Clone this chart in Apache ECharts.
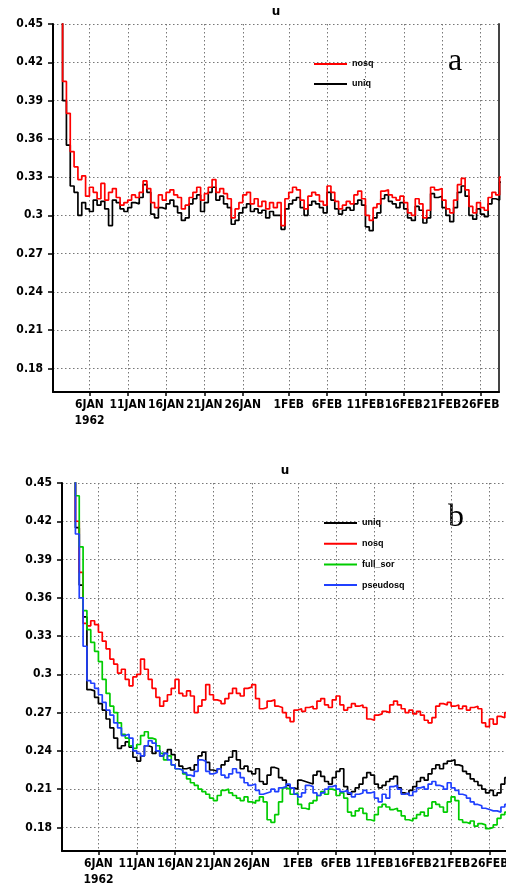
<!DOCTYPE html>
<html><head><meta charset="utf-8">
<script src="https://cdn.jsdelivr.net/npm/echarts@6/dist/echarts.min.js"></script>
<style>html,body{margin:0;padding:0;background:#fff}#c{width:506px;height:888px}</style>
</head><body><div id="c"></div>
<script>
// ---- data (sampled every 12 h from 1 JAN 1962 06Z); x is day-of-year (1 JAN 00Z = 1) ----
const startDay = 1.25;
const stepDays = 0.5;
const tickDays = [6, 11, 16, 21, 26, 32, 37, 42, 47, 52, 57];
const tickLabels = ['6JAN\n1962','11JAN','16JAN','21JAN','26JAN','1FEB','6FEB','11FEB','16FEB','21FEB','26FEB'];
const yTicks = [0.18,0.21,0.24,0.27,0.3,0.33,0.36,0.39,0.42,0.45];

// panel a
const uniqA = [0.60,0.52,0.47,0.39,0.355,0.323,0.318,0.300,0.310,0.305,
0.303,0.312,0.308,0.311,0.305,0.292,0.312,0.310,0.305,0.303,
0.306,0.310,0.309,0.314,0.324,0.318,0.301,0.298,0.306,0.305,
0.309,0.312,0.307,0.302,0.296,0.298,0.309,0.313,0.316,0.303,
0.310,0.318,0.322,0.312,0.315,0.309,0.306,0.293,0.296,0.302,
0.306,0.309,0.303,0.305,0.302,0.304,0.298,0.303,0.300,0.300,
0.289,0.305,0.309,0.312,0.314,0.306,0.300,0.308,0.311,0.309,
0.306,0.302,0.318,0.312,0.305,0.301,0.304,0.306,0.304,0.309,
0.312,0.308,0.291,0.288,0.298,0.302,0.313,0.316,0.311,0.309,
0.306,0.310,0.305,0.298,0.296,0.307,0.304,0.294,0.298,0.317,
0.314,0.315,0.306,0.300,0.295,0.306,0.318,0.323,0.315,0.300,
0.297,0.305,0.301,0.299,0.309,0.313,0.312,0.326];
const nosqA = [0.62,0.53,0.48,0.405,0.38,0.35,0.338,0.328,0.331,0.315,
0.322,0.318,0.313,0.325,0.312,0.318,0.321,0.314,0.308,0.310,
0.312,0.316,0.314,0.318,0.327,0.321,0.310,0.306,0.316,0.312,
0.318,0.320,0.316,0.314,0.305,0.308,0.314,0.318,0.322,0.312,
0.317,0.322,0.328,0.318,0.321,0.317,0.313,0.298,0.305,0.310,
0.316,0.318,0.309,0.313,0.307,0.311,0.305,0.310,0.306,0.310,
0.292,0.313,0.318,0.322,0.320,0.312,0.305,0.315,0.318,0.316,
0.311,0.308,0.323,0.318,0.311,0.305,0.308,0.311,0.309,0.316,
0.319,0.313,0.300,0.296,0.306,0.309,0.319,0.320,0.316,0.314,
0.312,0.315,0.310,0.302,0.300,0.313,0.309,0.298,0.304,0.322,
0.320,0.321,0.312,0.305,0.302,0.312,0.324,0.329,0.320,0.307,
0.302,0.310,0.306,0.304,0.314,0.318,0.316,0.330];

// panel b
const uniqB = [0.70,0.60,0.52,0.46,0.415,0.37,0.345,0.288,0.287,0.282,
0.277,0.272,0.265,0.258,0.250,0.242,0.244,0.247,0.243,0.235,
0.232,0.236,0.244,0.243,0.238,0.240,0.236,0.238,0.241,0.237,
0.233,0.228,0.226,0.227,0.225,0.229,0.236,0.239,0.231,0.225,
0.224,0.226,0.229,0.232,0.235,0.240,0.233,0.226,0.228,0.224,
0.222,0.226,0.216,0.214,0.221,0.227,0.226,0.219,0.217,0.213,
0.211,0.210,0.217,0.216,0.215,0.214,0.221,0.224,0.220,0.216,
0.214,0.219,0.224,0.226,0.212,0.206,0.208,0.211,0.214,0.219,
0.223,0.221,0.214,0.211,0.213,0.216,0.218,0.220,0.211,0.207,
0.206,0.209,0.212,0.216,0.219,0.217,0.222,0.226,0.229,0.226,
0.230,0.232,0.233,0.229,0.228,0.224,0.222,0.218,0.216,0.213,
0.210,0.207,0.209,0.205,0.207,0.214,0.219,0.222];
const nosqB = [0.70,0.60,0.52,0.47,0.42,0.38,0.340,0.338,0.342,0.339,
0.333,0.326,0.320,0.312,0.308,0.301,0.304,0.296,0.291,0.298,
0.300,0.312,0.304,0.296,0.289,0.282,0.275,0.279,0.284,0.289,
0.296,0.285,0.283,0.287,0.283,0.270,0.275,0.280,0.292,0.284,
0.280,0.279,0.277,0.281,0.285,0.289,0.285,0.283,0.289,0.290,
0.292,0.281,0.273,0.274,0.279,0.280,0.275,0.274,0.270,0.266,
0.263,0.272,0.273,0.271,0.274,0.275,0.273,0.279,0.281,0.276,
0.274,0.280,0.283,0.276,0.272,0.274,0.277,0.275,0.276,0.274,
0.265,0.264,0.268,0.269,0.271,0.270,0.276,0.279,0.276,0.273,
0.270,0.272,0.269,0.271,0.268,0.264,0.262,0.266,0.275,0.277,
0.276,0.278,0.275,0.276,0.273,0.275,0.272,0.274,0.275,0.273,
0.262,0.259,0.265,0.261,0.267,0.266,0.270,0.268];
const fullSorB = [0.72,0.62,0.54,0.48,0.44,0.40,0.350,0.335,0.325,0.318,
0.310,0.296,0.285,0.275,0.270,0.262,0.253,0.250,0.244,0.242,
0.245,0.252,0.255,0.250,0.249,0.244,0.238,0.233,0.236,0.229,
0.226,0.225,0.222,0.218,0.215,0.213,0.210,0.208,0.206,0.203,
0.201,0.205,0.209,0.210,0.207,0.205,0.203,0.201,0.204,0.200,
0.199,0.201,0.204,0.200,0.186,0.184,0.190,0.200,0.211,0.210,
0.206,0.207,0.198,0.195,0.194,0.199,0.201,0.205,0.208,0.206,
0.210,0.209,0.205,0.207,0.203,0.192,0.189,0.193,0.195,0.191,
0.186,0.185,0.190,0.196,0.198,0.196,0.194,0.195,0.193,0.189,
0.186,0.185,0.187,0.190,0.192,0.189,0.195,0.200,0.198,0.196,
0.192,0.200,0.204,0.201,0.186,0.184,0.183,0.185,0.181,0.183,
0.182,0.179,0.180,0.182,0.187,0.190,0.192,0.190];
const pseudoB = [0.70,0.60,0.52,0.455,0.41,0.36,0.322,0.295,0.293,0.289,
0.284,0.278,0.272,0.268,0.262,0.258,0.252,0.253,0.250,0.240,
0.238,0.236,0.244,0.248,0.246,0.240,0.236,0.238,0.233,0.229,
0.226,0.225,0.223,0.221,0.220,0.224,0.233,0.232,0.224,0.222,
0.223,0.226,0.221,0.219,0.222,0.226,0.223,0.219,0.215,0.213,
0.214,0.209,0.206,0.207,0.208,0.210,0.208,0.211,0.212,0.214,
0.211,0.206,0.204,0.207,0.213,0.212,0.207,0.205,0.207,0.210,
0.212,0.213,0.210,0.208,0.209,0.207,0.204,0.206,0.207,0.209,
0.207,0.208,0.203,0.200,0.206,0.203,0.212,0.213,0.210,0.206,
0.207,0.205,0.208,0.211,0.212,0.210,0.214,0.216,0.213,0.212,
0.210,0.215,0.211,0.209,0.206,0.205,0.203,0.200,0.198,0.197,
0.195,0.194,0.193,0.193,0.192,0.196,0.198,0.200];

// ---- chart ----
const xMin = 1.25, xMax = 59.42;
const yMin = 0.1615, yMax = 0.45;
const toPairs = arr => arr.map((v, i) => [startDay + i * stepDays, v]);
const FONT = '"DejaVu Sans Condensed","DejaVu Sans",sans-serif';
const grid = [
  {left: 53, top: 24, width: 446, height: 368, outerBoundsMode: 'none', containLabel: false},
  {left: 62, top: 483, width: 446, height: 368, outerBoundsMode: 'none', containLabel: false}
];
const dotted = {show: true, lineStyle: {type: [1.5, 2.5], color: '#777', width: 1}};
function xAx(g) {
  return {type: 'value', gridIndex: g, min: xMin, max: xMax,
    axisLine: {show: true, onZero: false, lineStyle: {color: '#000', width: 2}},
    axisTick: {show: true, customValues: tickDays, length: 4, lineStyle: {color: '#000', width: 1.5}},
    axisLabel: {customValues: tickDays, color: '#000', fontSize: 12, fontWeight: 'bold', fontFamily: FONT,
      lineHeight: 16, margin: 5, hideOverlap: false,
      formatter: v => { const k = tickDays.indexOf(Math.round(v)); return k >= 0 ? tickLabels[k] : ''; }},
    splitLine: dotted};
}
function yAx(g) {
  return {type: 'value', gridIndex: g, min: yMin, max: yMax,
    axisLine: {show: true, onZero: false, lineStyle: {color: '#000', width: 2}},
    axisTick: {show: true, customValues: yTicks, length: 5, lineStyle: {color: '#000', width: 1.5}},
    axisLabel: {customValues: yTicks, color: '#000', fontSize: 12, fontWeight: 'bold', fontFamily: FONT,
      margin: 10, formatter: v => String(Math.round(v * 100) / 100)},
    splitLine: dotted};
}
function yRight(g) {
  return {type: 'value', gridIndex: g, min: yMin, max: yMax, position: 'right',
    axisLine: {show: true, onZero: false, lineStyle: {color: '#444', width: 2}},
    axisTick: {show: false}, axisLabel: {show: false}, splitLine: {show: false}};
}
function line(name, data, color, xi, yi) {
  return {type: 'line', name, data: toPairs(data), xAxisIndex: xi, yAxisIndex: yi,
    step: 'middle', showSymbol: false, symbol: 'none', color,
    lineStyle: {color, width: 1.7}, itemStyle: {color}, clip: true, animation: false};
}
const legendText = {fontSize: 9, fontWeight: 'bold', fontFamily: '"Liberation Sans",sans-serif', color: '#000', lineHeight: 12};
const option = {
  animation: false,
  backgroundColor: '#fff',
  grid,
  xAxis: [xAx(0), xAx(1)],
  yAxis: [yAx(0), yAx(1), yRight(0), yRight(1)],
  legend: [
    {data: ['nosq', 'uniq'], orient: 'vertical', left: 314, top: 58, itemWidth: 33, itemHeight: 2,
      itemGap: 8, icon: 'rect', padding: 0, selectedMode: false, textStyle: legendText},
    {data: ['uniq', 'nosq', 'full_sor', 'pseudosq'], orient: 'vertical', left: 324, top: 517, itemWidth: 33, itemHeight: 2,
      itemGap: 8.7, icon: 'rect', padding: 0, selectedMode: false, textStyle: legendText}
  ],
  series: [
    line('uniq', uniqA, '#000000', 0, 0),
    line('nosq', nosqA, '#ff0000', 0, 0),
    line('uniq', uniqB, '#000000', 1, 1),
    line('nosq', nosqB, '#ff0000', 1, 1),
    line('full_sor', fullSorB, '#00cc00', 1, 1),
    line('pseudosq', pseudoB, '#2040ff', 1, 1)
  ],
  graphic: [
    {type: 'text', x: 276, y: 12, style: {text: 'u', font: 'bold 12px "DejaVu Sans"', fill: '#000', align: 'center', verticalAlign: 'middle'}},
    {type: 'text', x: 285, y: 471, style: {text: 'u', font: 'bold 12px "DejaVu Sans"', fill: '#000', align: 'center', verticalAlign: 'middle'}},
    {type: 'text', x: 455, y: 62, style: {text: 'a', font: '32px "Liberation Serif"', fill: '#000', align: 'center', verticalAlign: 'middle'}},
    {type: 'text', x: 456, y: 518, style: {text: 'b', font: '32px "Liberation Serif"', fill: '#000', align: 'center', verticalAlign: 'middle'}}
  ]
};
const chart = echarts.init(document.getElementById('c'), null, {renderer: 'canvas'});
chart.setOption(option);
</script>
</body></html>
